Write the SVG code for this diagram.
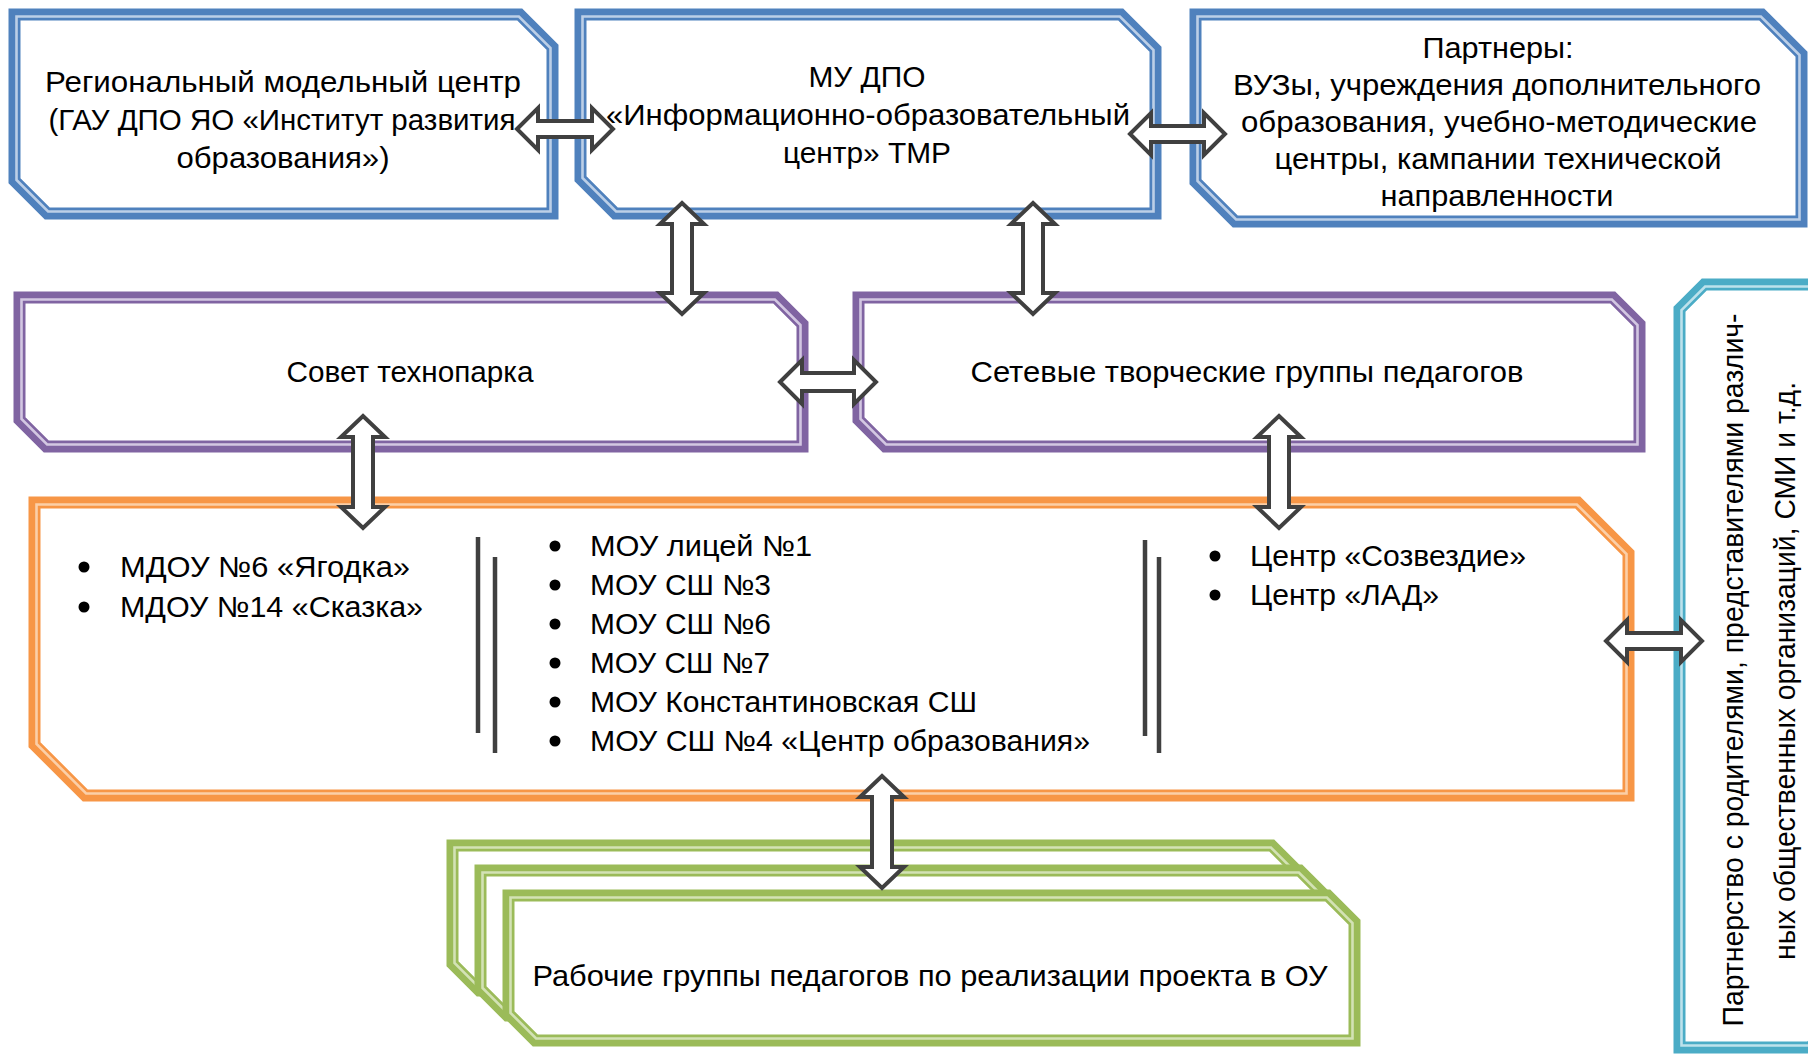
<svg xmlns="http://www.w3.org/2000/svg" width="1808" height="1060" viewBox="0 0 1808 1060">
<style>
text{font-family:"Liberation Sans",Arial,sans-serif;fill:#000;}
.t30{font-size:30px;text-anchor:middle;}
.t29{font-size:29px;text-anchor:middle;}
.li{font-size:29px;}
.o{stroke-width:12;fill:#fff;stroke-linejoin:miter;}
.i{stroke-width:2.6;fill:none;stroke-linejoin:miter;}
.blue .o{stroke:#4f81bd;} .blue .i{stroke:#bccfe7;}
.purple .o{stroke:#8064a2;} .purple .i{stroke:#d3c7e2;}
.orange .o{stroke:#f79646;} .orange .i{stroke:#fbcfa8;}
.teal .o{stroke:#4bacc6;} .teal .i{stroke:#bde2ec;}
.green .o{stroke:#9bbb59;} .green .i{stroke:#d3e2b5;}
.arrow{fill:#fff;stroke:#404040;stroke-width:4;stroke-linejoin:miter;}
.sep{stroke:#404040;stroke-width:4.5;fill:none;}
.b{fill:#000;}
</style>

<g id="node-regional" class="blue">
<path class="o" d="M14.5,14.5 H519.72 L552.5,47.28 V213.5 H47.28 L14.5,180.72 Z"/>
<path class="i" d="M16.5,16.5 H518.89 L550.5,48.11 V211.5 H48.11 L16.5,179.89 Z"/>
<text class="t30" x="283" y="92" textLength="476" lengthAdjust="spacingAndGlyphs">Региональный модельный центр</text>
<text class="t30" x="282" y="130" textLength="467" lengthAdjust="spacingAndGlyphs">(ГАУ ДПО ЯО «Институт развития</text>
<text class="t30" x="283" y="168" textLength="213" lengthAdjust="spacingAndGlyphs">образования»)</text>
</g>

<g id="node-mu-dpo" class="blue">
<path class="o" d="M580.5,14.5 H1120.72 L1155.5,49.28 V213.5 H615.28 L580.5,178.72 Z"/>
<path class="i" d="M582.5,16.5 H1119.89 L1153.5,50.11 V211.5 H616.11 L582.5,177.89 Z"/>
<text class="t30" x="867" y="87" textLength="117" lengthAdjust="spacingAndGlyphs">МУ ДПО</text>
<text class="t30" x="868" y="125" textLength="524" lengthAdjust="spacingAndGlyphs">«Информационно-образовательный</text>
<text class="t30" x="867" y="163" textLength="168" lengthAdjust="spacingAndGlyphs">центр» ТМР</text>
</g>

<g id="node-partners" class="blue">
<path class="o" d="M1195.5,14.5 H1761.72 L1801.5,54.28 V221.5 H1235.28 L1195.5,181.72 Z"/>
<path class="i" d="M1197.5,16.5 H1760.89 L1799.5,55.11 V219.5 H1236.11 L1197.5,180.89 Z"/>
<text class="t30" x="1498" y="58" textLength="151" lengthAdjust="spacingAndGlyphs">Партнеры:</text>
<text class="t30" x="1497" y="95" textLength="528" lengthAdjust="spacingAndGlyphs">ВУЗы, учреждения дополнительного</text>
<text class="t30" x="1499" y="132" textLength="516" lengthAdjust="spacingAndGlyphs">образования, учебно-методические</text>
<text class="t30" x="1498" y="169" textLength="447" lengthAdjust="spacingAndGlyphs">центры, кампании технической</text>
<text class="t30" x="1497" y="206" textLength="233" lengthAdjust="spacingAndGlyphs">направленности</text>
</g>

<g id="node-council" class="purple">
<path class="o" d="M19.5,297.5 H775.72 L802.5,324.28 V446.5 H46.28 L19.5,419.72 Z"/>
<path class="i" d="M21.5,299.5 H774.89 L800.5,325.11 V444.5 H47.11 L21.5,418.89 Z"/>
<text class="t29" x="410" y="382" textLength="247" lengthAdjust="spacingAndGlyphs">Совет технопарка</text>
</g>

<g id="node-network-groups" class="purple">
<path class="o" d="M858.5,297.5 H1612.72 L1639.5,324.28 V446.5 H885.28 L858.5,419.72 Z"/>
<path class="i" d="M860.5,299.5 H1611.89 L1637.5,325.11 V444.5 H886.11 L860.5,418.89 Z"/>
<text class="t29" x="1247" y="382" textLength="553" lengthAdjust="spacingAndGlyphs">Сетевые творческие группы педагогов</text>
</g>

<g id="node-institutions" class="orange">
<path class="o" d="M34.5,502.5 H1577.72 L1628.5,553.28 V795.5 H85.28 L34.5,744.72 Z"/>
<path class="i" d="M36.5,504.5 H1576.89 L1626.5,554.11 V793.5 H86.11 L36.5,743.89 Z"/>
<circle class="b" cx="84" cy="567" r="5.5"/>
<circle class="b" cx="84" cy="607" r="5.5"/>
<text class="li" x="120" y="577" textLength="290" lengthAdjust="spacingAndGlyphs">МДОУ №6 «Ягодка»</text>
<text class="li" x="120" y="617" textLength="303" lengthAdjust="spacingAndGlyphs">МДОУ №14 «Сказка»</text>
<line class="sep" x1="478" y1="537" x2="478" y2="733"/>
<line class="sep" x1="495" y1="557" x2="495" y2="753"/>
<circle class="b" cx="555" cy="546" r="5.5"/>
<circle class="b" cx="555" cy="585" r="5.5"/>
<circle class="b" cx="555" cy="624" r="5.5"/>
<circle class="b" cx="555" cy="663" r="5.5"/>
<circle class="b" cx="555" cy="702" r="5.5"/>
<circle class="b" cx="555" cy="741" r="5.5"/>
<text class="li" x="590" y="556" textLength="222" lengthAdjust="spacingAndGlyphs">МОУ лицей №1</text>
<text class="li" x="590" y="595" textLength="181" lengthAdjust="spacingAndGlyphs">МОУ СШ №3</text>
<text class="li" x="590" y="634" textLength="181" lengthAdjust="spacingAndGlyphs">МОУ СШ №6</text>
<text class="li" x="590" y="673" textLength="180" lengthAdjust="spacingAndGlyphs">МОУ СШ №7</text>
<text class="li" x="590" y="712" textLength="387" lengthAdjust="spacingAndGlyphs">МОУ Константиновская СШ</text>
<text class="li" x="590" y="751" textLength="500" lengthAdjust="spacingAndGlyphs">МОУ СШ №4 «Центр образования»</text>
<line class="sep" x1="1145" y1="540" x2="1145" y2="736"/>
<line class="sep" x1="1159" y1="557" x2="1159" y2="753"/>
<circle class="b" cx="1215" cy="556" r="5.5"/>
<circle class="b" cx="1215" cy="595" r="5.5"/>
<text class="li" x="1250" y="566" textLength="276" lengthAdjust="spacingAndGlyphs">Центр «Созвездие»</text>
<text class="li" x="1250" y="605" textLength="189" lengthAdjust="spacingAndGlyphs">Центр «ЛАД»</text>
</g>

<g id="node-partnership" class="teal">
<path class="o" d="M1679.5,309.28 L1704.28,284.5 H1834.5 V1022.72 L1809.72,1047.5 H1679.5 Z"/>
<path class="i" d="M1681.5,310.11 L1705.11,286.5 H1832.5 V1021.89 L1808.89,1045.5 H1681.5 Z"/>
<text class="t30" transform="translate(1743,670) rotate(-90)" x="0" y="0" textLength="713" lengthAdjust="spacingAndGlyphs">Партнерство с родителями, представителями различ-</text>
<text class="t30" transform="translate(1795,671) rotate(-90)" x="0" y="0" textLength="578" lengthAdjust="spacingAndGlyphs">ных общественных организаций, СМИ и т.д.</text>
</g>

<g id="node-working-groups" class="green">
<path class="o" d="M452.5,845.5 H1271.72 L1298.5,872.28 V990.5 H479.28 L452.5,963.72 Z"/>
<path class="i" d="M454.5,847.5 H1270.89 L1296.5,873.11 V988.5 H480.11 L454.5,962.89 Z"/>
<path class="o" d="M480.5,870.5 H1299.72 L1326.5,897.28 V1015.5 H507.28 L480.5,988.72 Z"/>
<path class="i" d="M482.5,872.5 H1298.89 L1324.5,898.11 V1013.5 H508.11 L482.5,987.89 Z"/>
<path class="o" d="M508.5,895.5 H1327.72 L1354.5,922.28 V1040.5 H535.28 L508.5,1013.72 Z"/>
<path class="i" d="M510.5,897.5 H1326.89 L1352.5,923.11 V1038.5 H536.11 L510.5,1012.89 Z"/>
<text class="t29" x="930" y="986" textLength="795" lengthAdjust="spacingAndGlyphs">Рабочие группы педагогов по реализации проекта в ОУ</text>
</g>

<g id="connectors">
<path class="arrow" d="M517,129 L538,108 V121 H592 V108 L613,129 L592,150 V137 H538 V150 Z"/>
<path class="arrow" d="M1130,134 L1151,113 V126 H1204 V113 L1225,134 L1204,155 V142 H1151 V155 Z"/>
<path class="arrow" d="M682,203 L704,224 H692 V293 H704 L682,314 L660,293 H672 V224 H660 Z"/>
<path class="arrow" d="M1033,203 L1055,224 H1043 V293 H1055 L1033,314 L1011,293 H1023 V224 H1011 Z"/>
<path class="arrow" d="M780,382 L802,360 V373 H854 V360 L876,382 L854,404 V391 H802 V404 Z"/>
<path class="arrow" d="M363,416 L385,437 H373 V507 H385 L363,528 L341,507 H353 V437 H341 Z"/>
<path class="arrow" d="M1279,416 L1301,437 H1289 V507 H1301 L1279,528 L1257,507 H1269 V437 H1257 Z"/>
<path class="arrow" d="M1606,641 L1627,620 V633 H1681 V620 L1702,641 L1681,662 V649 H1627 V662 Z"/>
<path class="arrow" d="M882,776 L904,797 H892 V867 H904 L882,888 L860,867 H872 V797 H860 Z"/>
</g>
</svg>
